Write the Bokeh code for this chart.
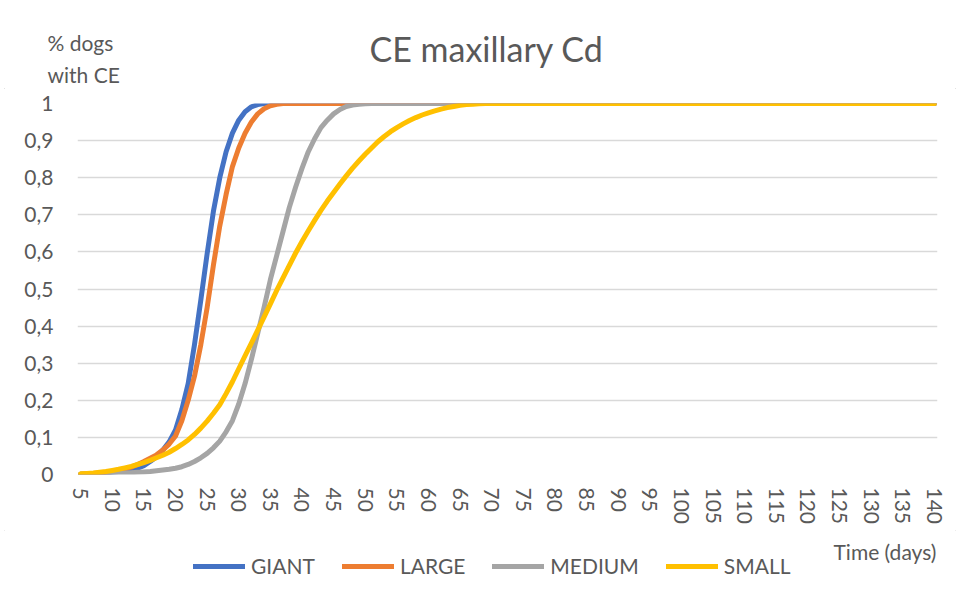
from bokeh.plotting import figure
from bokeh.layouts import column
from bokeh.models import (ColumnDataSource, Range1d, FixedTicker, CustomJSTickFormatter,
                          Legend, LegendItem, Label)
from bokeh.embed import file_html
from bokeh.resources import INLINE

# ---------------- data ----------------
days = list(range(5, 71)) + list(range(75, 141, 5))

giant = [0.001, 0.001, 0.002, 0.003, 0.004, 0.006, 0.008, 0.010, 0.013, 0.017,
         0.024, 0.035, 0.048, 0.066, 0.088, 0.120, 0.175, 0.245, 0.350, 0.470,
         0.595, 0.710, 0.800, 0.870, 0.920, 0.955, 0.978, 0.991, 0.997, 1.000,
         1.0, 1.0, 1.0, 1.0, 1.0, 1.0, 1.0, 1.0, 1.0, 1.0,
         1.0, 1.0, 1.0, 1.0, 1.0, 1.0, 1.0, 1.0, 1.0, 1.0,
         1.0, 1.0, 1.0, 1.0, 1.0, 1.0, 1.0, 1.0, 1.0, 1.0,
         1.0, 1.0, 1.0, 1.0, 1.0, 1.0,
         1.0, 1.0, 1.0, 1.0, 1.0, 1.0, 1.0, 1.0, 1.0, 1.0, 1.0, 1.0, 1.0, 1.0]

large = [0.001, 0.002, 0.003, 0.004, 0.006, 0.008, 0.011, 0.015, 0.020, 0.027,
         0.035, 0.044, 0.053, 0.066, 0.082, 0.104, 0.145, 0.200, 0.265, 0.350,
         0.450, 0.565, 0.670, 0.755, 0.830, 0.880, 0.920, 0.950, 0.972, 0.986,
         0.994, 0.998, 1.0, 1.0, 1.0, 1.0, 1.0, 1.0, 1.0, 1.0,
         1.0, 1.0, 1.0, 1.0, 1.0, 1.0, 1.0, 1.0, 1.0, 1.0,
         1.0, 1.0, 1.0, 1.0, 1.0, 1.0, 1.0, 1.0, 1.0, 1.0,
         1.0, 1.0, 1.0, 1.0, 1.0, 1.0,
         1.0, 1.0, 1.0, 1.0, 1.0, 1.0, 1.0, 1.0, 1.0, 1.0, 1.0, 1.0, 1.0, 1.0]

medium = [0.001, 0.001, 0.001, 0.002, 0.002, 0.003, 0.003, 0.004, 0.005, 0.006,
          0.007, 0.008, 0.010, 0.012, 0.014, 0.017, 0.021, 0.027, 0.035, 0.045,
          0.057, 0.072, 0.090, 0.115, 0.145, 0.190, 0.245, 0.310, 0.380, 0.450,
          0.525, 0.590, 0.655, 0.720, 0.775, 0.825, 0.870, 0.905, 0.935, 0.955,
          0.972, 0.984, 0.992, 0.996, 0.998, 0.999, 1.0, 1.0, 1.0, 1.0,
          1.0, 1.0, 1.0, 1.0, 1.0, 1.0, 1.0, 1.0, 1.0, 1.0,
          1.0, 1.0, 1.0, 1.0, 1.0, 1.0,
          1.0, 1.0, 1.0, 1.0, 1.0, 1.0, 1.0, 1.0, 1.0, 1.0, 1.0, 1.0, 1.0, 1.0]

small = [0.002, 0.003, 0.004, 0.006, 0.008, 0.011, 0.014, 0.018, 0.022, 0.027,
         0.032, 0.038, 0.045, 0.052, 0.060, 0.070, 0.081, 0.093, 0.108, 0.125,
         0.144, 0.165, 0.188, 0.218, 0.250, 0.285, 0.320, 0.354, 0.389, 0.424,
         0.460, 0.496, 0.530, 0.564, 0.597, 0.628, 0.657, 0.685, 0.712, 0.737,
         0.760, 0.783, 0.805, 0.826, 0.845, 0.863, 0.880, 0.897, 0.911, 0.924,
         0.935, 0.945, 0.954, 0.962, 0.969, 0.975, 0.980, 0.985, 0.989, 0.992,
         0.995, 0.997, 0.998, 0.999, 1.000, 1.000,
         1.0, 1.0, 1.0, 1.0, 1.0, 1.0, 1.0, 1.0, 1.0, 1.0, 1.0, 1.0, 1.0, 1.0]

series_keys = ["giant", "large", "medium", "small"]
series_names = ["GIANT", "LARGE", "MEDIUM", "SMALL"]
x_ticks = list(range(5, 141, 5))
y_ticks = [0, 0.1, 0.2, 0.3, 0.4, 0.5, 0.6, 0.7, 0.8, 0.9, 1.0]

title_text = "CE maxillary Cd"
y_title = ["% dogs", "with CE"]
x_title = "Time (days)"

# ---------------- styling ----------------
FONT = "Lato"
TXT = "#595959"
FS = "21px"
colors = ["#4472C4", "#ED7D31", "#A5A5A5", "#FFC000"]
W = 960
TOP_H = 88          # header strip: page y 0..88
MAIN_END = 530      # main chart: page y 88..530
TOTAL_H = 601       # footer strip: page y 530..601


def no_align(fig):
    try:
        fig.frame_align = False
    except Exception:
        pass


def strip(y0, y1):
    f = figure(width=W, height=y1 - y0, output_backend="svg", toolbar_location=None,
               x_range=Range1d(0, W), y_range=Range1d(y1, y0),
               x_axis_type=None, y_axis_type=None, min_border=0)
    f.title = None
    f.outline_line_color = None
    f.grid.visible = False
    no_align(f)
    return f


source = ColumnDataSource(dict(day=days, giant=giant, large=large,
                               medium=medium, small=small))

# ---------- header strip: chart title and y-axis title ----------
top = strip(0, TOP_H)
top.add_layout(Label(x=486, y=48, text=title_text, text_align="center",
                     text_baseline="middle", text_font=FONT,
                     text_font_size="34px", text_color=TXT))
for txt, yy in zip(y_title, [42, 74]):
    top.add_layout(Label(x=47, y=yy, text=txt, text_align="left",
                         text_baseline="middle", text_font=FONT,
                         text_font_size=FS, text_color=TXT))

# ---------- main chart ----------
p = figure(width=W, height=MAIN_END - TOP_H, output_backend="svg",
           toolbar_location=None,
           x_range=Range1d(4.5, 140.5), y_range=Range1d(0, 1),
           min_border_left=77, min_border_right=23, min_border_top=103 - TOP_H,
           min_border_bottom=MAIN_END - 474)
p.title = None
p.outline_line_color = None
no_align(p)

p.xgrid.grid_line_color = None
p.ygrid.grid_line_color = "#d9d9d9"
p.ygrid.grid_line_width = 1.3
p.ygrid.ticker = FixedTicker(ticks=y_ticks)

p.yaxis.ticker = FixedTicker(ticks=y_ticks)
p.yaxis.formatter = CustomJSTickFormatter(
    code="return (Math.round(tick*10)/10).toString().replace('.', ',');")
p.yaxis.axis_line_color = None
p.yaxis.major_tick_line_color = None
p.yaxis.minor_tick_line_color = None
p.yaxis.major_tick_out = 0
p.yaxis.major_tick_in = 0
p.yaxis.major_label_standoff = 24
p.yaxis.major_label_text_font = FONT
p.yaxis.major_label_text_font_size = FS
p.yaxis.major_label_text_color = TXT

p.xaxis.ticker = FixedTicker(ticks=x_ticks)
p.xaxis.axis_line_color = None
p.xaxis.major_tick_line_color = None
p.xaxis.minor_tick_line_color = None
p.xaxis.major_tick_out = 0
p.xaxis.major_tick_in = 0
p.xaxis.major_label_standoff = 13
p.xaxis.major_label_orientation = "vertical"
p.xaxis.major_label_text_font = FONT
p.xaxis.major_label_text_font_size = FS
p.xaxis.major_label_text_color = TXT

for key, c in zip(series_keys, colors):
    p.line("day", key, source=source, line_color=c, line_width=5,
           line_cap="round", line_join="round")

# ---------- footer strip: x-axis title and legend ----------
bottom = strip(MAIN_END, TOTAL_H)
bottom.add_layout(Label(x=833, y=551, text=x_title, text_align="left",
                        text_baseline="middle", text_font=FONT,
                        text_font_size=FS, text_color=TXT))
# legend glyph renderers: same series, they fall outside this strip's range
leg_renderers = [bottom.line("day", key, source=source, line_color=c, line_width=5,
                             line_cap="round")
                 for key, c in zip(series_keys, colors)]
legend = Legend(items=[LegendItem(label=n, renderers=[r])
                       for n, r in zip(series_names, leg_renderers)],
                orientation="horizontal", location=(193, TOTAL_H - 566 - 12),
                glyph_width=52, glyph_height=24, label_height=24,
                label_standoff=6, spacing=27, padding=0, margin=0,
                label_text_font=FONT, label_text_font_size=FS,
                label_text_color=TXT, border_line_color=None,
                background_fill_alpha=0)
bottom.add_layout(legend)

layout = column(top, p, bottom, spacing=0,
                stylesheets=[":host { outline: 1px solid #d9d9d9; outline-offset: -5px; }"])

open("out.html", "w").write(file_html(layout, INLINE))
